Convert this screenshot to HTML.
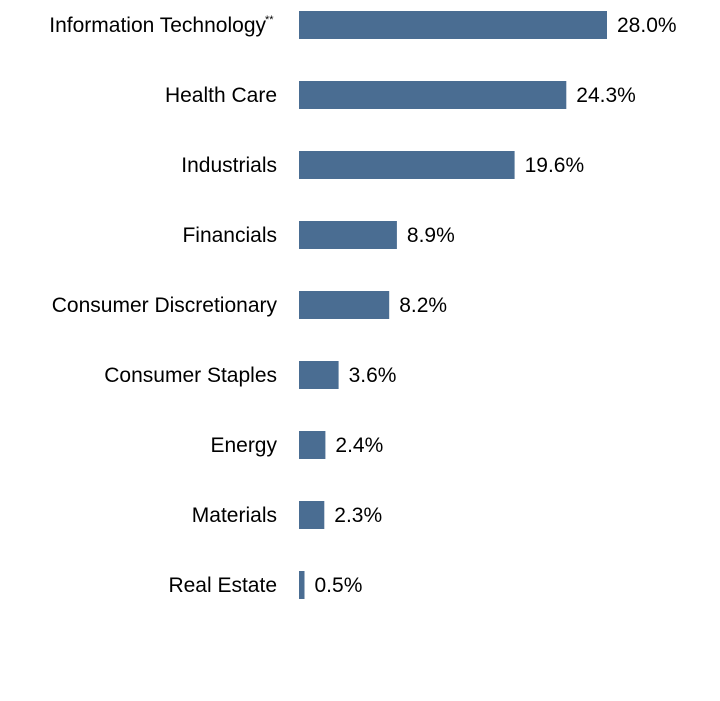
<!DOCTYPE html>
<html><head><meta charset="utf-8"><style>
body{margin:0;background:#fff;width:720px;height:696px;overflow:hidden}
svg text{font-family:"Liberation Sans",Arial,sans-serif;font-size:21px;fill:#000}
</style></head><body>
<svg id="chart" width="720" height="696" viewBox="0 0 720 696"></svg>
<script>
const categories=["Information Technology","Health Care","Industrials","Financials","Consumer Discretionary","Consumer Staples","Energy","Materials","Real Estate"];
const values=[28.0,24.3,19.6,8.9,8.2,3.6,2.4,2.3,0.5];
const valueLabels=["28.0%","24.3%","19.6%","8.9%","8.2%","3.6%","2.4%","2.3%","0.5%"];
const svg=document.getElementById('chart');
const NS='http://www.w3.org/2000/svg';
const x0=299,pxPer=11,y0=25,step=70,bh=28;
function xs(v){return x0+v*pxPer;}
function ys(i){return y0+i*step;}
categories.forEach((c,i)=>{
  const cy=ys(i);
  const r=document.createElementNS(NS,'rect');
  
  
  r.setAttribute('x',x0);r.setAttribute('y',cy-bh/2);
  r.setAttribute('width',Math.max(0,xs(values[i])-x0));r.setAttribute('height',bh);
  r.setAttribute('fill','#4a6d92');
  svg.appendChild(r);
  const t=document.createElementNS(NS,'text');
  
  
  t.setAttribute('x',i===0?266:277);t.setAttribute('y',cy+7);
  t.setAttribute('text-anchor','end');
  t.textContent=c;
  svg.appendChild(t);
  if(i===0){
    const s=document.createElementNS(NS,'text');
    
    
    s.setAttribute('x',265);s.setAttribute('y',cy-2);
    s.setAttribute('style','font-size:11px');
    s.textContent='**';
    svg.appendChild(s);
  }
  const v=document.createElementNS(NS,'text');
  
  
  v.setAttribute('x',xs(values[i])+10);v.setAttribute('y',cy+7);
  v.textContent=valueLabels[i];
  svg.appendChild(v);
});
</script>
</body></html>
